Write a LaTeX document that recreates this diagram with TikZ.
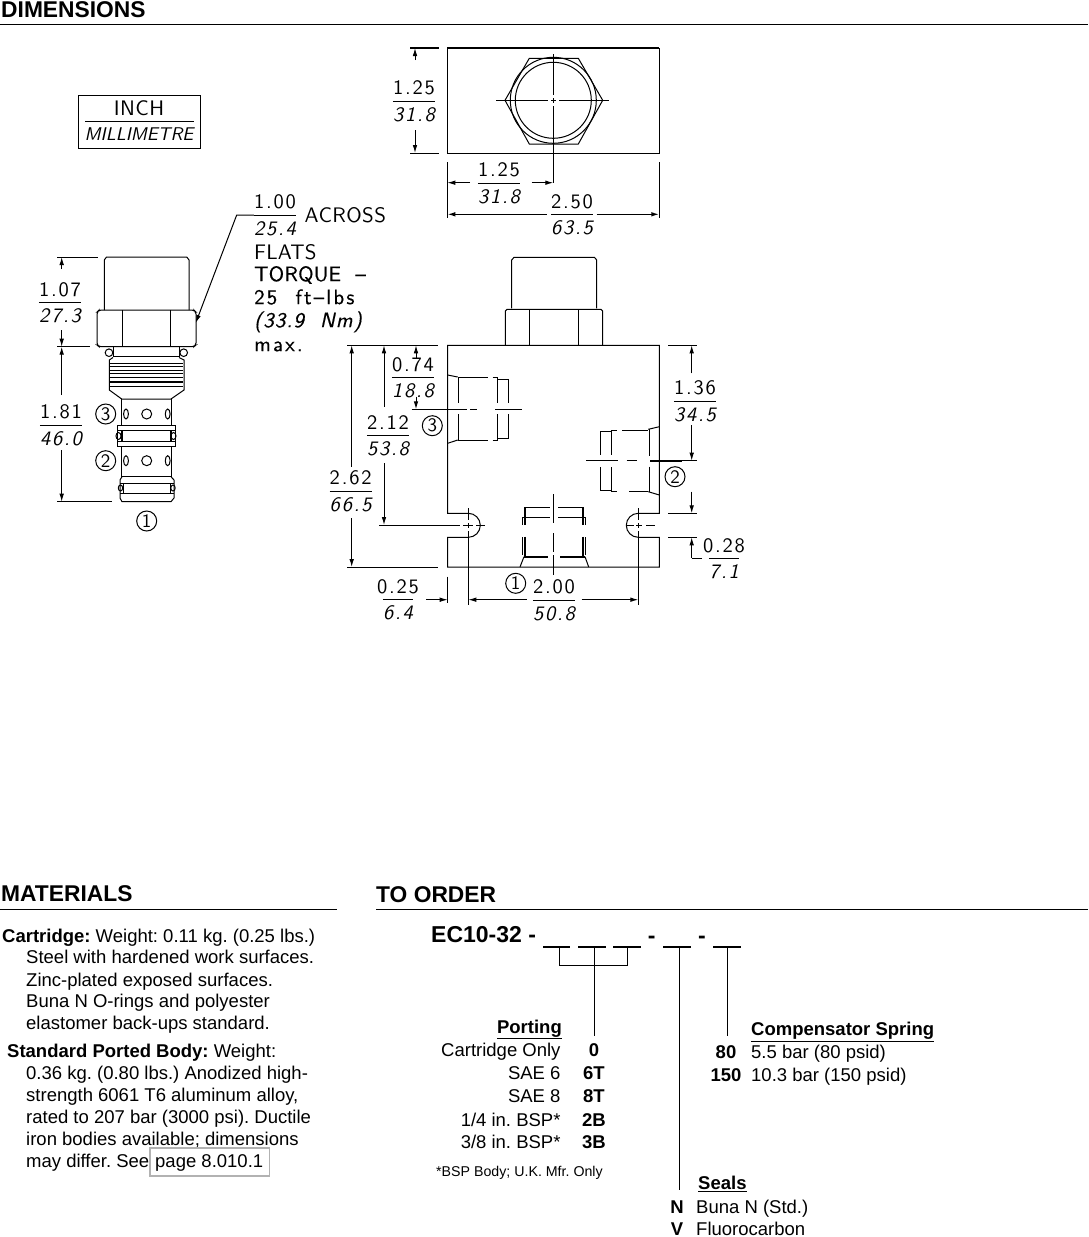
\documentclass[tikz,border=0pt]{standalone}
\usepackage{fontspec}
\usetikzlibrary{arrows.meta}
\newfontfamily\arialf{Liberation Sans}
\newfontfamily\cadf{lmsans10-regular.otf}[ItalicFont=lmsans10-oblique.otf,BoldFont=lmsans10-bold.otf]
\newcommand\bodyfnt{\arialf\frenchspacing\fontsize{18.5}{20}\selectfont}
\newcommand\headfnt{\arialf\bfseries\fontsize{22.8}{26}\selectfont}
\newcommand\smallfnt{\arialf\frenchspacing\fontsize{14.2}{16}\selectfont}
\newcommand\codefnt{\arialf\bfseries\frenchspacing\fontsize{23}{24}\selectfont}
\newcommand\cadfnt{\cadf\fontsize{20.5}{24}\selectfont\addfontfeature{LetterSpace=9}}
\newcommand\cadlet[1]{\cadf\fontsize{21}{24}\selectfont\addfontfeature{LetterSpace=#1}}
\newcommand\cadheavy[1]{\cadf\fontsize{21}{24}\selectfont\addfontfeature{LetterSpace=#1,FakeBold=0.4}}
\tikzset{
  ln/.style={line width=1pt,line cap=butt},
  hv/.style={line width=1.8pt},
  dimar/.style={line width=1pt,-{Latex[length=8pt,width=4.6pt]}},
  dimtxt/.style={font=\cadfnt,inner sep=0pt,text=black},
  lbl/.style={font=\bodyfnt,inner sep=0pt,anchor=mid west,yshift=-4pt},
  lbr/.style={font=\bodyfnt,inner sep=0pt,anchor=mid east,yshift=-4pt},
  bold/.style={font=\bodyfnt\bfseries,inner sep=0pt,yshift=-4pt},
  head/.style={font=\headfnt,inner sep=0pt,anchor=mid west,yshift=-6pt},
  cadl/.style={inner sep=0pt,anchor=mid west,yshift=-5pt},
  codet/.style={font=\codefnt,inner sep=0pt,yshift=-4.5pt},
  portmark/.style={draw,circle,line width=1pt,minimum size=20pt,inner sep=0pt,font=\cadf\fontsize{19}{20}\selectfont},
}
\newcommand\frc[5]{%
  \coordinate (#1c) at (#2,#3);
  \node[dimtxt,anchor=south] (#1a) at (#2,#3-5.5) {#4};
  \node[dimtxt,anchor=north] (#1b) at (#2,#3+6) {\itshape #5};
  \draw[ln] (#1b.west|-#1c) -- (#1b.east|-#1c);
}
\begin{document}
\begin{tikzpicture}[x=1pt,y=-1pt]
\useasboundingbox (0,0) rectangle (1088,1237);
\fill[white] (0,0) rectangle (1088,1237);

% section heads
\node[head] (hdim) at (1,9) {DIMENSIONS};
\draw[ln] (0,24.5) -- (1088,24.5);
\node[head] (hmat) at (1,893) {MATERIALS};
\draw[ln] (0,909) -- (337,909);
\node[head] (hord) at (376,894) {TO ORDER};
\draw[ln] (376,909) -- (1088,909);

% legend
\draw[ln] (78,95) rectangle (200,148);
\node[font=\cadlet{2},inner sep=0pt] (inch) at (139,108) {INCH};
\node[font=\cadf\itshape\fontsize{18.4}{24}\selectfont,inner sep=0pt] (mm) at (139,134) {MILLIMETRE};
\draw[ln] (85,121) -- (194,121);

% cartridge
\draw[ln] (104.3,310) -- (104.3,260) -- (106.5,257) -- (186.8,257) -- (189,260) -- (189,310);
\draw[ln,rounded corners=2pt] (97,312) -- (99,310) -- (194,310) -- (196,312) -- (196,345) -- (194,346.7) -- (99,346.7) -- (97,345) -- cycle;
\draw[ln] (122,310) -- (122,346.7) (170,310) -- (170,346.7);
\draw[ln] (113,346.7) -- (113,356.7) (179,346.7) -- (179,356.7) (113,356.7) -- (179,356.7);
\draw[ln] (109,352.7) circle[radius=3.8pt] (183.7,352.7) circle[radius=3.8pt];
\draw[ln] (113,357.5) -- (109.3,360) -- (109.3,390) -- (121.7,399) -- (171,399) -- (184,390) -- (184,360) -- (179,357.5);
\foreach \yy in {363,366.5,370,373.5,377,386}{\draw[line width=0.7pt] (110,\yy) -- (183,\yy);}
\draw[hv] (110,381.7) -- (183,381.7);
\draw[ln] (121.7,399) -- (121.7,425.3) (171,399) -- (171,425.3);
\draw[ln] (117,425.3) rectangle (175,446.7);
\draw[ln] (117,430.7) -- (175,430.7) (117,441.7) -- (175,441.7);
\draw[hv] (122,430.7) -- (122,441.7) (171,430.7) -- (171,441.7);
\draw[ln] (118.5,436) circle[x radius=2.5pt,y radius=3.5pt] (173.5,436) circle[x radius=2.5pt,y radius=3.5pt];
\draw[ln] (121.7,446.7) -- (121.7,476.7) (171,446.7) -- (171,476.7);
\draw[ln] (121.7,476.7) -- (170.7,476.7);
\draw[ln] (122,476.7) -- (120,480) -- (120,498) -- (122,501.7) -- (171,501.7) -- (174,498) -- (174,480) -- (171,476.7);
\draw[ln] (120,483) -- (174,483) (120,493) -- (174,493);
\draw[hv] (123.5,483) -- (123.5,493) (170.5,483) -- (170.5,493);
\draw[ln] (120.5,488) circle[x radius=2.2pt,y radius=3pt] (173,488) circle[x radius=2.2pt,y radius=3pt];
\foreach \yy in {414,460.7}{
  \draw[ln] (146.7,\yy) circle[radius=5pt];
  \draw[ln] (126,\yy) circle[x radius=2.4pt,y radius=5pt];
  \draw[ln] (167.7,\yy) circle[x radius=2.4pt,y radius=5pt];
}
% cartridge dims
\draw[ln] (57,257) -- (98,257) (57,346.7) -- (90,346.7) (57,501.7) -- (112,501.7);
\draw[dimar] (61.7,269) -- (61.7,257);
\draw[dimar] (61.7,330) -- (61.7,346.7);
\draw[dimar] (61.7,395) -- (61.7,346.7);
\draw[dimar] (61.7,450) -- (61.7,501.7);
\frc{fa}{60}{302.7}{1.07}{27.3}
\frc{fb}{61}{425}{1.81}{46.0}
\node[portmark] (c3) at (105.7,414) {3};
\node[portmark] (c2) at (105.7,460.7) {2};
\node[portmark] (c1) at (146.7,521) {1};
% leader
\frc{fc}{275}{215}{1.00}{25.4}
\coordinate (lead) at (195.7,323);
\draw[dimar] (fcb.west|-fcc) -- (236.7,215) -- (lead);
\node[cadl,font=\cadlet{2}] (across) at (304.5,215) {ACROSS};
\node[cadl,font=\cadlet{1}] (flats) at (254,252) {FLATS};
\node[cadl,font=\cadheavy{1}] (torq) at (254,274) {TORQUE\ \ –};
\node[cadl,font=\cadheavy{10}] (ftlb) at (254,297) {25\ \ ft–lbs};
\node[cadl,font=\cadheavy{5}] (nm) at (254,320) {\itshape (33.9\ \ Nm)};
\node[cadl,font=\cadheavy{10}] (maxt) at (254,344) {max.};

% top view
\draw[ln] (447.3,153) -- (659.3,153) -- (659.3,48) (447.3,153) -- (447.3,48);
\draw[hv] (447.3,48) -- (659.3,48);
\draw[ln] (505,100.3) -- (529.3,58.3) -- (578.3,58.3) -- (602.7,100.3) -- (578.3,144) -- (529.3,144) -- cycle;
\draw[ln] (553.3,100.3) circle[radius=43pt] (553.3,100.3) circle[radius=38pt];
\draw[ln] (496,100.3) -- (548,100.3) (551,100.3) -- (556,100.3) (559,100.3) -- (608.7,100.3);
\draw[ln] (553.3,54) -- (553.3,95) (553.3,98) -- (553.3,103) (553.3,106) -- (553.3,183);
\draw[hv] (410,48) -- (438.7,48);
\draw[ln] (410,153) -- (438.7,153);
\draw[dimar] (415,60) -- (415,48);
\draw[dimar] (415,130) -- (415,153);
\frc{fd}{414}{101}{1.25}{31.8}
\draw[ln] (447.3,162) -- (447.3,218) (659.3,162) -- (659.3,218);
\draw[dimar] (470,182.7) -- (447.3,182.7);
\draw[dimar] (531.7,182.7) -- (553.3,182.7);
\frc{fe}{499}{183}{1.25}{31.8}
\draw[dimar,line width=1.4pt] (546.7,214.3) -- (447.3,214.3);
\draw[dimar,line width=1.4pt] (596.7,214.3) -- (659.3,214.3);
\frc{ff}{572}{214.3}{2.50}{63.5}

% block cartridge outline
\draw[ln] (511.7,308.3) -- (511.7,260) -- (514,257.3) -- (594.4,257.3) -- (596.7,260) -- (596.7,308.3);
\draw[ln] (505.3,345.3) -- (505.3,311) -- (507,309.3) -- (601,309.3) -- (602.7,311) -- (602.7,345.3);
\draw[ln] (529.3,309.3) -- (529.3,345.3) (578.3,309.3) -- (578.3,345.3);
% block
\draw[ln] (468.3,513.3) -- (447.7,513.3) -- (447.7,345.3) -- (659.3,345.3) -- (659.3,513.3) -- (638.3,513.3)
  arc[start angle=90,end angle=270,radius=12pt] -- (659.3,537.3) -- (659.3,567) -- (447.7,567) -- (447.7,537.3) -- (468.3,537.3)
  arc[start angle=-90,end angle=90,radius=12pt];
% hole centres
\draw[ln] (468.3,508) -- (468.3,520) (468.3,523) -- (468.3,528) (468.3,531) -- (468.3,605);
\draw[ln] (638.3,508) -- (638.3,520) (638.3,523) -- (638.3,528) (638.3,531) -- (638.3,605);
\draw[ln] (379.3,525) -- (460,525) (463,525) -- (473,525) (476,525) -- (485,525);
\draw[ln] (626,525) -- (634,525) (636,525) -- (642,525) (646,525) -- (655,525);
% port 3
\draw[ln] (447.7,375) -- (457.7,377) (447.7,443.3) -- (457.7,440);
\draw[hv] (458.5,377) -- (458.5,403.3) (458.5,414) -- (458.5,440);
\draw[ln] (458.3,377) -- (488.3,377) (492.7,377) -- (497.7,377) (458.3,440) -- (488.3,440) (492.7,440) -- (497.7,440);
\draw[ln] (497.7,377) -- (497.7,403.3) (497.7,414) -- (497.7,440);
\draw[ln] (497.7,379.3) -- (508.3,379.3) -- (508.3,403.3) (508.3,414) -- (508.3,438.3) -- (497.7,438.3);
\draw[ln] (411.7,409.3) -- (466.7,409.3) (470,409.3) -- (477,409.3) (495,409.3) -- (521.7,409.3);
% port 2
\draw[ln] (659.3,426.7) -- (648.3,429.3) (659.3,495) -- (648.3,491.7);
\draw[hv] (649.5,429.3) -- (649.5,455.7) (649.5,466.7) -- (649.5,491.7);
\draw[ln] (611.7,430) -- (617,430) (622,430) -- (648.3,430) (611.7,491.7) -- (617,491.7) (629,491.7) -- (648.3,491.7);
\draw[ln] (611.7,430) -- (611.7,455) (611.7,467) -- (611.7,491.7);
\draw[ln] (611.7,431.7) -- (600.7,431.7) -- (600.7,455) (600.7,467) -- (600.7,490) -- (611.7,490);
\draw[ln] (586,460.7) -- (617.7,460.7) (626.7,460.7) -- (636.7,460.7) (696.7,460.7) -- (681.7,460.7);
\draw[hv] (650,460.7) -- (681.7,460.7);
% port 1
\draw[ln] (553.3,494.3) -- (553.3,523.3) (553.3,533) -- (553.3,551.7) (553.3,555) -- (553.3,575);
\draw[ln] (525,507.3) -- (550,507.3) (558.3,507.3) -- (583.3,507.3);
\draw[ln] (522.3,517.7) -- (550,517.7) (558.3,517.7) -- (585.7,517.7);
\draw[ln] (522.3,517.7) -- (522.3,525) (522.3,537) -- (522.3,555) (585.7,517.7) -- (585.7,525) (585.7,537) -- (585.7,555);
\draw[hv] (524.7,507.3) -- (524.7,525) (524.7,536.7) -- (524.7,556.7) (583.3,507.3) -- (583.3,525) (583.3,536.7) -- (583.3,556.7);
\draw[hv] (524,556.7) -- (548.3,556.7) (560,556.7) -- (585,556.7);
\draw[ln] (524,556.7) -- (520,567) (585,556.7) -- (588.7,567);
% block dims left
\draw[ln] (347.3,345.3) -- (437.7,345.3) (347.3,567) -- (437.7,567);
\draw[dimar] (351.7,466.7) -- (351.7,345.3);
\draw[dimar] (351.7,518) -- (351.7,567);
\frc{fg}{350.7}{491}{2.62}{66.5}
\draw[dimar] (384,406.7) -- (384,345.3);
\draw[dimar] (384,463.3) -- (384,525);
\frc{fh}{388}{435}{2.12}{53.8}
\draw[dimar] (416,358.3) -- (416,345.3);
\draw[dimar] (416,396.7) -- (416,409.3);
\frc{fi}{413}{377.7}{0.74}{18.8}
% block dims right
\draw[ln] (668.3,345.3) -- (696.7,345.3) (668.3,513.3) -- (696.7,513.3) (668.3,537.3) -- (696.7,537.3);
\draw[dimar] (691.7,373.3) -- (691.7,345.3);
\draw[dimar] (691.7,425) -- (691.7,460.7);
\draw[dimar] (691.7,491.7) -- (691.7,513.3);
\frc{fj}{695}{401}{1.36}{34.5}
\frc{fk}{724}{558.3}{0.28}{7.1}
\coordinate (elb) at (691.7,558.3);
\draw[ln] (702,558.3) -- (elb);
\draw[dimar] (elb) -- (691.7,537.3);
% block dims bottom
\draw[ln] (447.7,576.7) -- (447.7,603);
\draw[dimar] (426,599.7) -- (447.7,599.7);
\frc{fl}{398}{599.7}{0.25}{6.4}
\draw[dimar] (526.7,599.7) -- (468.3,599.7);
\draw[dimar] (581.7,599.7) -- (638.3,599.7);
\frc{fm}{554}{600}{2.00}{50.8}
\node[portmark] (b3) at (432.3,425.7) {3};
\node[portmark] (b2) at (675,476.7) {2};
\node[portmark] (b1) at (515.7,583.3) {1};

% materials
\node[lbl] (m1) at (2,936.7) {\textbf{Cartridge:} Weight: 0.11 kg. (0.25 lbs.)};
\node[lbl] (m2) at (26,957.7) {Steel with hardened work surfaces.};
\node[lbl] (m3) at (26,980) {Zinc-plated exposed surfaces.};
\node[lbl] (m4) at (26,1001.7) {Buna N O-rings and polyester};
\node[lbl] (m5) at (26,1023.3) {elastomer back-ups standard.};
\node[lbl] (m6) at (7,1051.7) {\textbf{Standard Ported Body:} Weight:};
\node[lbl] (m7) at (26,1073.3) {0.36 kg. (0.80 lbs.) Anodized high-};
\node[lbl] (m8) at (26,1095) {strength 6061 T6 aluminum alloy,};
\node[lbl] (m9) at (26,1117.3) {rated to 207 bar (3000 psi). Ductile};
\node[lbl] (m10) at (26,1139) {iron bodies available; dimensions};
\node[lbl] (m11) at (26,1161) {may differ. See};
\node[lbl] (m12) at (155,1161) {page 8.010.1};
\draw[line width=1.6pt,color=black!30] (150,1147.7) rectangle (269.3,1176);

% order code
\node[codet,anchor=mid west] (ec) at (431,935.5) {EC10-32 -};
\draw[line width=1.8pt] (543.3,946.7) -- (570,946.7) (578.3,946.7) -- (606,946.7) (613.3,946.7) -- (640.7,946.7) (663.3,946.7) -- (690.7,946.7) (713.3,946.7) -- (741,946.7);
\node[codet] (h1) at (651.7,935.5) {-};
\node[codet] (h2) at (702,935.5) {-};
\draw[ln] (559.3,946.7) -- (559.3,965) -- (627.3,965) -- (627.3,946.7);
\draw[ln] (594.3,946.7) -- (594.3,1035.7);
\draw[ln] (679,946.7) -- (679,1190);
\draw[ln] (727.3,946.7) -- (727.3,1035.7);
% porting
\node[bold,anchor=mid east] (p0) at (562,1027) {\underline{Porting}};
\node[lbr] (p1) at (560.7,1050) {Cartridge Only};
\node[lbr] (p2) at (560.7,1073) {SAE 6};
\node[lbr] (p3) at (560.7,1096.7) {SAE 8};
\node[lbr] (p4) at (560.7,1120) {1/4 in. BSP*};
\node[lbr] (p5) at (560.7,1142.7) {3/8 in. BSP*};
\node[bold,anchor=mid] (q1) at (594,1050) {0};
\node[bold,anchor=mid] (q2) at (594,1073) {6T};
\node[bold,anchor=mid] (q3) at (594,1096.7) {8T};
\node[bold,anchor=mid] (q4) at (594,1120) {2B};
\node[bold,anchor=mid] (q5) at (594,1142.7) {3B};
\node[font=\smallfnt,inner sep=0pt,anchor=mid west,yshift=-4pt] (foot) at (436,1170.7) {*BSP Body; U.K. Mfr. Only};
% spring
\node[bold,anchor=mid west] (s0) at (751,1029.3) {\underline{Compensator Spring}};
\node[bold,anchor=mid] (s1) at (726,1052) {80};
\node[bold,anchor=mid] (s2) at (726,1075.7) {150};
\node[lbl] (s3) at (751,1052) {5.5 bar (80 psid)};
\node[lbl] (s4) at (751,1075.7) {10.3 bar (150 psid)};
% seals
\node[bold,anchor=mid west] (e0) at (698,1183.3) {\underline{Seals}};
\node[bold,anchor=mid] (e1) at (677,1207) {N};
\node[bold,anchor=mid] (e2) at (677,1229) {V};
\node[lbl] (e3) at (696,1207) {Buna N (Std.)};
\node[lbl] (e4) at (696,1229) {Fluorocarbon};
\end{tikzpicture}
\end{document}
